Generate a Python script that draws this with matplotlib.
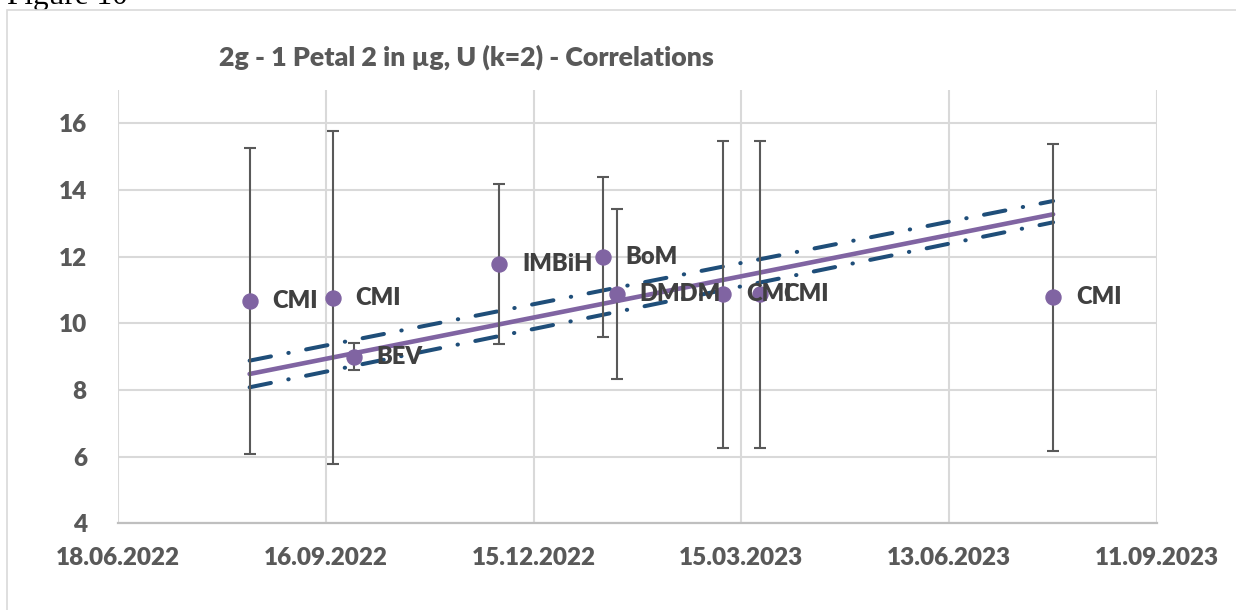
import datetime as dt
import matplotlib
matplotlib.use("Agg")
import matplotlib.pyplot as plt
import matplotlib.dates as mdates
from matplotlib.patches import Rectangle

# measurement results: date, value (ug), expanded uncertainty U (k=2)
labs = ["CMI", "CMI", "BEV", "IMBiH", "BoM", "DMDM", "CMI", "CMI", "CMI"]
dates = ["14.08.2022", "19.09.2022", "28.09.2022", "30.11.2022", "14.01.2023",
         "20.01.2023", "07.03.2023", "23.03.2023", "28.07.2023"]
vals = [10.67, 10.77, 9.0, 11.78, 11.98, 10.88, 10.87, 10.87, 10.78]
unc = [4.6, 5.0, 0.4, 2.4, 2.4, 2.54, 4.6, 4.6, 4.6]

# linear drift and its band
trend_dates = ["14.08.2022", "28.07.2023"]
trend_vals = [8.48, 13.27]
band_hi = [8.88, 13.67]
band_lo = [8.08, 13.03]

xtick_labels = ["18.06.2022", "16.09.2022", "15.12.2022", "15.03.2023",
                "13.06.2023", "11.09.2023"]
yticks = [4, 6, 8, 10, 12, 14, 16]

title = "2g - 1 Petal 2 in µg, U (k=2) - Correlations"

def todate(s):
    return dt.datetime.strptime(s, "%d.%m.%Y")

x = [todate(d) for d in dates]
xt = [todate(d) for d in trend_dates]
xticks = [todate(d) for d in xtick_labels]

fts = 17
plt.rcParams['font.family'] = ['Lato', 'DejaVu Sans']
plt.rcParams['font.weight'] = 'heavy'

fig = plt.figure(figsize=(12.36, 6.10), dpi=100)
W, H = 1236.0, 610.0

# caption above the chart box, partly hidden by the box
fig.text(7/W, 1-4/H, "Figure 10", family='Liberation Serif', fontweight='normal',
         fontsize=22.5, color='k', ha='left', va='baseline', zorder=0.5)
box = Rectangle((7/W, -0.1), 1.2, 1-10/H+0.1, transform=fig.transFigure,
                facecolor='white', edgecolor='#D9D9D9', lw=1.2, zorder=1)
fig.patches.append(box)

ax = fig.add_axes([118/W, 1-523.3/H, (1157-118)/W, (523.3-90)/H])
ax.set_zorder(2)
ax.patch.set_alpha(0)

purple = '#8064A2'
navy = '#1F4E79'
grey = '#595959'

ax.errorbar(x, vals, yerr=unc, fmt='o', ms=10.8, color=purple, mec=purple,
            ecolor=grey, elinewidth=1.5, capsize=4.4, capthick=1.5, zorder=4)

ax.plot(xt, trend_vals, color=purple, lw=3.3, solid_capstyle='round', zorder=3)
for b in (band_hi, band_lo):
    ln, = ax.plot(xt, b, color=navy, lw=2.9, zorder=3)
    ln.set_dashes((5.4, 4.4, 0.1, 4.4))
    ln.set_dash_capstyle('round')

for xi, yi, s in zip(x, vals, labs):
    ax.annotate(s, (mdates.date2num(xi), yi), xytext=(16.5, 0), textcoords='offset points',
                ha='left', va='center', fontsize=fts, fontweight='heavy',
                color='#404040', zorder=6)

ax.set_xlim(xticks[0], xticks[-1])
ax.set_ylim(4, 17)
ax.set_xticks(xticks)
ax.set_xticklabels(xtick_labels)
ax.set_yticks(yticks)
ax.set_yticklabels([str(v) for v in yticks])
ax.tick_params(length=0, labelsize=17.5, colors=grey)
ax.tick_params(axis='y', pad=22.5)
ax.tick_params(axis='x', pad=17)
for lab in ax.get_xticklabels() + ax.get_yticklabels():
    lab.set_fontweight('heavy')

ax.grid(True, color='#D9D9D9', lw=1.5)
ax.set_axisbelow(True)
for side in ['top', 'right', 'left']:
    ax.spines[side].set_visible(False)
ax.spines['bottom'].set_color('#BFBFBF')
ax.spines['bottom'].set_linewidth(1.6)

fig.text(466/W, 1-57/H, title, ha='center', va='center', fontsize=19.3,
         fontweight='heavy', color=grey, zorder=3)

fig.savefig('out.png', dpi=100)
